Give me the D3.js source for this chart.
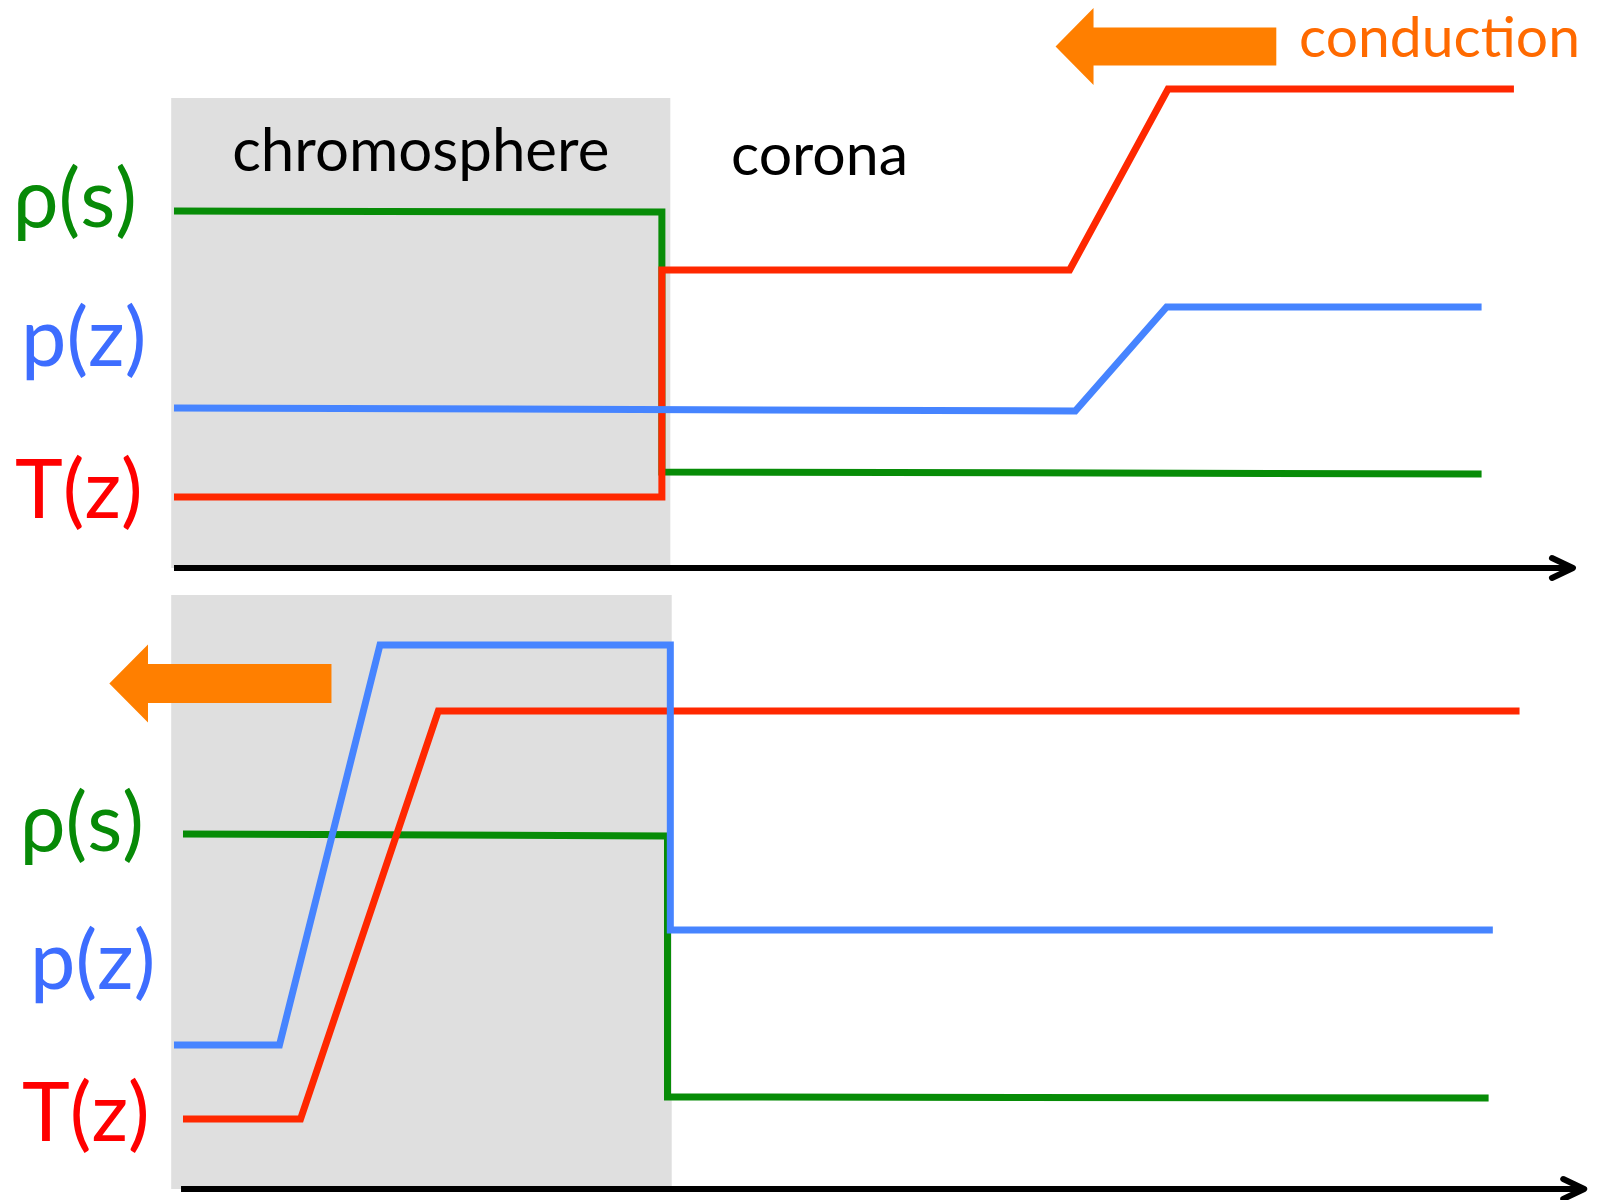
<!DOCTYPE html>
<html>
<head>
<meta charset="utf-8">
<script src="https://cdn.jsdelivr.net/npm/d3@7"></script>
<style>
  body { margin: 0; background: #fff; }
  text { font-family: Lato, "Open Sans", "Noto Sans", sans-serif; }
</style>
</head>
<body>
<svg id="chart"></svg>
<script>
// position along the loop (0-100) and level (0 = axis)
const regionTop = [-0.2, 35.3, 0, 94];
const regionBot = [-0.2, 35.4, 0, 118.8];

const rhoTop = [[0, 71.4], [34.7, 71.2], [34.7, 19.2], [93.0, 18.8]];
const tempTop = [[0, 14.2], [34.7, 14.2], [34.7, 59.6], [63.7, 59.6], [70.7, 95.8], [95.3, 95.8]];
const presTop = [[0, 32.0], [64.1, 31.4], [70.6, 52.2], [93.0, 52.2]];

const rhoBot = [[0.64, 71.0], [35.1, 70.6], [35.1, 18.4], [93.5, 18.2]];
const tempBot = [[0.64, 14.0], [9.0, 14.0], [18.8, 95.6], [95.7, 95.6]];
const presBot = [[0, 28.8], [7.5, 28.8], [14.65, 108.8], [35.3, 108.8], [35.3, 51.8], [93.8, 51.8]];

const axisTop = [0, 99.5];
const axisBot = [0.5, 100.3];

// heat flux arrows: [tip x, head base x, tail x, tip y, half body, half head]
const fluxTop = [62.7, 65.4, 78.4, 104.3, 3.8, 7.7];
const fluxBot = [-4.6, -1.85, 11.2, 101.1, 3.9, 7.8];

const labels = ['ρ(s)', 'p(z)', 'T(z)'];

const W = 1598, H = 1200;
const svg = d3.select('#chart').attr('width', W).attr('height', H);

const x = d3.scaleLinear().domain([0, 100]).range([174, 1580]);
const yTop = d3.scaleLinear().domain([0, 100]).range([568, 68]);
const yBot = d3.scaleLinear().domain([0, 100]).range([1189, 689]);

const green = '#078c07', red = '#ff2800', blue = '#4684ff', orange = '#ff7f00';
const labelColors = ['#078a07', '#3d6dff', '#ff0000'];

function panel(y, region, rho, temp, pres, axis, flux) {
  const g = svg.append('g');
  g.append('rect')
    .attr('x', x(region[0])).attr('width', x(region[1]) - x(region[0]))
    .attr('y', y(region[3])).attr('height', y(region[2]) - y(region[3]))
    .attr('fill', '#dfdfdf');

  const line = d3.line().x(d => x(d[0])).y(d => y(d[1]));
  [[rho, green], [temp, red], [pres, blue]].forEach(([d, c]) => {
    g.append('path').attr('d', line(d))
      .attr('fill', 'none').attr('stroke', c).attr('stroke-width', 7)
      .attr('stroke-linejoin', 'miter');
  });

  // axis with open arrow head
  const ay = y(0);
  const tx = x(axis[1]);
  g.append('line')
    .attr('x1', x(axis[0])).attr('x2', tx - 2)
    .attr('y1', ay).attr('y2', ay)
    .attr('stroke', '#000').attr('stroke-width', 6);
  g.append('path')
    .attr('d', `M${tx - 21},${ay - 10}L${tx},${ay}L${tx - 21},${ay + 10}`)
    .attr('fill', 'none').attr('stroke', '#000').attr('stroke-width', 6)
    .attr('stroke-linecap', 'round').attr('stroke-linejoin', 'round');

  // flux arrow
  const [tip, base, tail, fy, hb, hh] = flux;
  const pts = [
    [tip, fy], [base, fy + hh], [base, fy + hb], [tail, fy + hb],
    [tail, fy - hb], [base, fy - hb], [base, fy - hh]
  ];
  g.append('path')
    .attr('d', d3.line().x(d => x(d[0])).y(d => y(d[1]))(pts) + 'Z')
    .attr('fill', orange);
  return g;
}

const gTop = panel(yTop, regionTop, rhoTop, tempTop, presTop, axisTop, fluxTop);
const gBot = panel(yBot, regionBot, rhoBot, tempBot, presBot, axisBot, fluxBot);

// variable labels
const topPos = [[13, 227], [21, 366], [15, 518]];
const botPos = [[20, 851], [30, 989], [22, 1141]];
[[gTop, topPos], [gBot, botPos]].forEach(([g, pos]) => {
  g.selectAll('.lab').data(labels).join('text')
    .attr('class', 'lab')
    .attr('x', (d, i) => pos[i][0]).attr('y', (d, i) => pos[i][1])
    .attr('font-size', 81).attr('fill', (d, i) => labelColors[i])
    .text(d => d);
});

gTop.append('text')
  .attr('x', (x(regionTop[0]) + x(regionTop[1])) / 2).attr('y', 171)
  .attr('text-anchor', 'middle').attr('font-size', 60).attr('fill', '#000')
  .text('chromosphere');
gTop.append('text')
  .attr('x', 731).attr('y', 175)
  .attr('font-size', 59).attr('fill', '#000')
  .text('corona');
gTop.append('text')
  .attr('x', 1299).attr('y', 57)
  .attr('font-size', 57).attr('fill', '#ff6a00')
  .text('conduction');
</script>
</body>
</html>
